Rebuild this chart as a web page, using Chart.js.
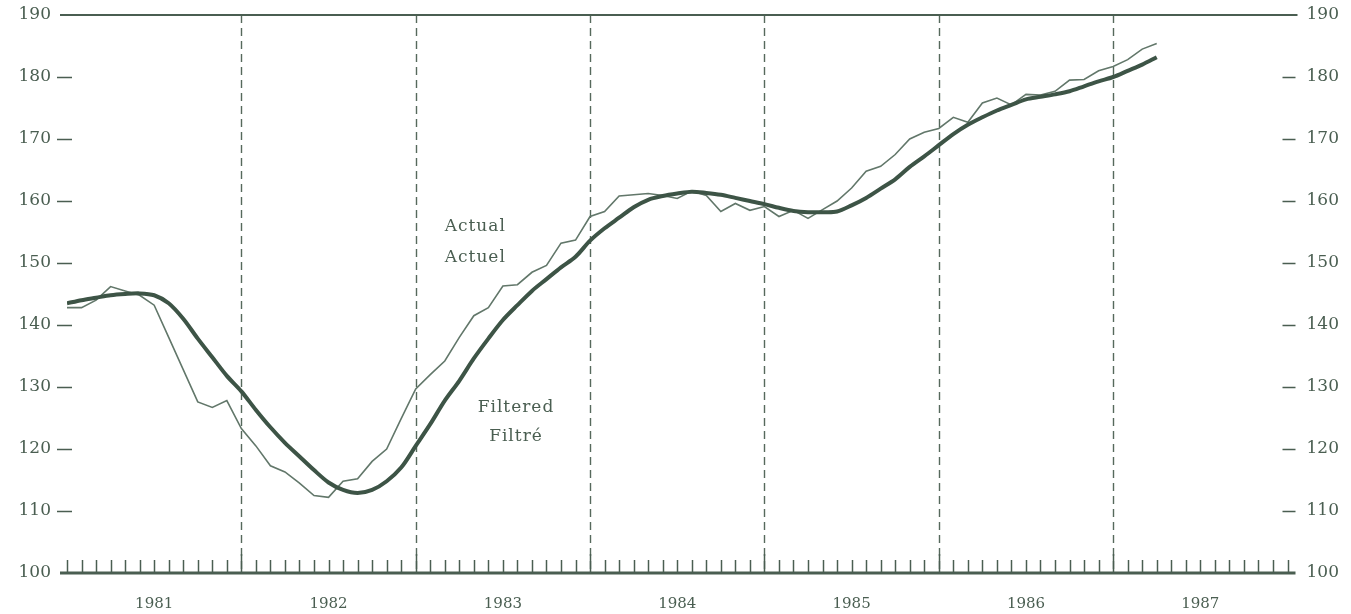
<!DOCTYPE html>
<html>
<head>
<meta charset="utf-8">
<script src="https://cdn.jsdelivr.net/npm/chart.js@4.4.1/dist/chart.umd.min.js"></script>
<style>
    html, body { margin: 0; padding: 0; background: #ffffff; }
    #wrap { width: 1351px; height: 614px; }
</style>
</head>
<body>
<div id="wrap"><canvas id="chart"></canvas></div>
<script>
// monthly values, Jan 1981 onwards (month index 0 = Jan 1981)
const yearLabels = ['1981', '1982', '1983', '1984', '1985', '1986', '1987'];
const yTicks = [100, 110, 120, 130, 140, 150, 160, 170, 180, 190];

const actual = [
    142.8, 142.8, 144.0, 146.2, 145.5, 144.8, 143.2, 138.0, 132.8, 127.6, 126.7, 127.8,
    123.3, 120.5, 117.3, 116.3, 114.5, 112.5, 112.2, 114.8, 115.2, 118.0, 120.0, 124.9,
    129.7, 132.0, 134.2, 138.0, 141.5, 142.8, 146.3, 146.5, 148.5, 149.6, 153.2, 153.7,
    157.5, 158.3, 160.8, 161.0, 161.2, 160.9, 160.4, 161.6, 160.9, 158.3, 159.6, 158.5,
    159.1, 157.5, 158.5, 157.2, 158.6, 160.0, 162.1, 164.8, 165.6, 167.5, 170.0, 171.1,
    171.7, 173.5, 172.7, 175.8, 176.6, 175.5, 177.2, 177.1, 177.7, 179.5, 179.6, 181.0,
    181.7, 182.8, 184.5, 185.4
];

const filtered = [
    143.5, 144.0, 144.4, 144.8, 145.0, 145.1, 144.8, 143.5, 141.0, 137.8, 134.8, 131.8,
    129.3, 126.3, 123.5, 121.0, 118.8, 116.6, 114.6, 113.4, 112.9, 113.4, 114.8, 117.0,
    120.5, 124.0, 127.8, 131.0, 134.6, 137.8, 140.8, 143.2, 145.5, 147.4, 149.3, 151.0,
    153.6, 155.6, 157.3, 159.0, 160.2, 160.8, 161.2, 161.5, 161.3, 161.0, 160.5, 160.0,
    159.5, 158.9, 158.4, 158.2, 158.2, 158.3, 159.3, 160.5, 162.0, 163.5, 165.5, 167.2,
    169.0, 170.8, 172.3, 173.5, 174.6, 175.5, 176.4, 176.8, 177.2, 177.7, 178.5, 179.3,
    180.0, 181.0, 182.0, 183.2
];

// label anchors in data units (month index, value)
const notes = [
    { text: 'Actual', x: 28.1, y: 155.8 },
    { text: 'Actuel', x: 28.1, y: 150.9 },
    { text: 'Filtered', x: 30.9, y: 126.7 },
    { text: 'Filtré', x: 30.9, y: 122.0 }
];

const ink = '#4a5e51';
const lineDark = '#3d5446';
const lineLight = '#62776a';
const serif = 'DejaVu Serif';

const toPoints = arr => arr.map((v, i) => ({ x: i, y: v }));

// fixed axis sizes so the plot box matches the scan
const fixWidth = w => s => { s.width = w; s.paddingTop = 0; s.paddingBottom = 0; };

const framePlugin = {
    id: 'frame',
    beforeDatasetsDraw(chart) {
        const { ctx, chartArea, scales } = chart;
        const x = scales.x;
        ctx.save();
        // dashed year separators
        ctx.strokeStyle = '#56695c';
        ctx.lineWidth = 1.4;
        ctx.setLineDash([8, 5]);
        for (let m = 12; m < 84; m += 12) {
            const px = Math.round(x.getPixelForValue(m)) + 0.5;
            ctx.beginPath();
            ctx.moveTo(px, chartArea.top);
            ctx.lineTo(px, chartArea.bottom);
            ctx.stroke();
        }
        ctx.restore();
    },
    afterDatasetsDraw(chart) {
        const { ctx, chartArea, scales } = chart;
        const x = scales.x, y = scales.y;
        ctx.save();
        ctx.strokeStyle = ink;
        // top and bottom rules
        const yTop = y.getPixelForValue(190);
        const yBot = y.getPixelForValue(100);
        ctx.lineWidth = 2;
        ctx.beginPath();
        ctx.moveTo(chartArea.left - 7, yTop);
        ctx.lineTo(chartArea.right + 10, yTop);
        ctx.stroke();
        ctx.lineWidth = 3;
        ctx.beginPath();
        ctx.moveTo(chartArea.left - 7, yBot);
        ctx.lineTo(chartArea.right + 8, yBot);
        ctx.stroke();
        // monthly ticks standing on the bottom rule
        ctx.lineWidth = 1.5;
        for (let m = 0; m <= 84; m++) {
            const px = Math.round(x.getPixelForValue(m)) + 0.5;
            const h = (m % 12 === 0 && m > 0 && m < 84) ? 19 : 13;
            ctx.beginPath();
            ctx.moveTo(px, yBot);
            ctx.lineTo(px, yBot - h);
            ctx.stroke();
        }
        // short dashes beside the value labels
        ctx.lineWidth = 1.6;
        yTicks.forEach(v => {
            if (v === 100 || v === 190) return;
            const py = Math.round(y.getPixelForValue(v)) + 0.5;
            ctx.beginPath();
            ctx.moveTo(chartArea.left - 10, py);
            ctx.lineTo(chartArea.left + 5, py);
            ctx.moveTo(chartArea.right - 5, py);
            ctx.lineTo(chartArea.right + 8, py);
            ctx.stroke();
        });
        // series captions
        ctx.fillStyle = ink;
        ctx.font = '17px "' + serif + '"';
        ctx.textAlign = 'center';
        ctx.textBaseline = 'middle';
        if ('letterSpacing' in ctx) ctx.letterSpacing = '1px';
        notes.forEach(n => {
            ctx.fillText(n.text, x.getPixelForValue(n.x), y.getPixelForValue(n.y));
        });
        ctx.restore();
    }
};

new Chart(document.getElementById('chart'), {
    type: 'line',
    data: {
        datasets: [{
            label: 'Filtered',
            data: toPoints(filtered),
            borderColor: lineDark,
            borderWidth: 4,
            pointRadius: 0,
            tension: 0.3,
            yAxisID: 'y'
        }, {
            label: 'Actual',
            data: toPoints(actual),
            borderColor: lineLight,
            borderWidth: 1.6,
            pointRadius: 0,
            tension: 0,
            yAxisID: 'y'
        }]
    },
    options: {
        responsive: true,
        maintainAspectRatio: false,
        animation: false,
        layout: { padding: { top: 15, bottom: 0, left: 0, right: 0 } },
        plugins: {
            legend: { display: false },
            tooltip: { enabled: false }
        },
        scales: {
            x: {
                type: 'linear',
                min: 0,
                max: 84,
                afterFit: s => { s.height = 41; },
                grid: { display: false, drawTicks: false },
                border: { display: false },
                ticks: {
                    stepSize: 6,
                    autoSkip: false,
                    maxRotation: 0,
                    padding: 22,
                    color: ink,
                    font: { family: serif, size: 15 },
                    callback: v => (v % 12 === 6 ? yearLabels[(v - 6) / 12] : '')
                }
            },
            y: {
                position: 'left',
                min: 100,
                max: 190,
                afterFit: fixWidth(67),
                grid: { display: false, drawTicks: false },
                border: { display: false },
                ticks: { stepSize: 10, padding: 16, color: ink, font: { family: serif, size: 17 } }
            },
            y2: {
                position: 'right',
                min: 100,
                max: 190,
                afterFit: fixWidth(63.5),
                grid: { display: false, drawTicks: false },
                border: { display: false },
                ticks: { stepSize: 10, padding: 19, color: ink, font: { family: serif, size: 17 } }
            }
        }
    },
    plugins: [framePlugin]
});
</script>
</body>
</html>
